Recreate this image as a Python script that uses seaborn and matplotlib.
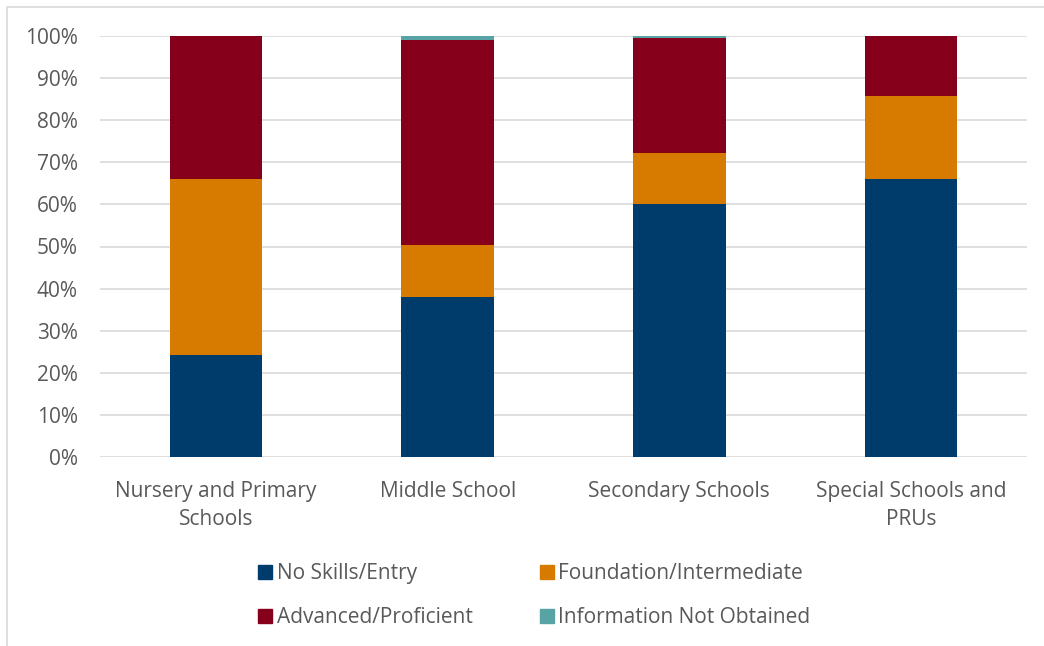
import numpy as np
import pandas as pd
import matplotlib
matplotlib.use("Agg")
import matplotlib.pyplot as plt
import seaborn as sns
from matplotlib.patches import Rectangle
from matplotlib.lines import Line2D

categories = ["Nursery and Primary\nSchools", "Middle School", "Secondary Schools", "Special Schools and\nPRUs"]
series_names = ["No Skills/Entry", "Foundation/Intermediate", "Advanced/Proficient", "Information Not Obtained"]
no_skills = [24.2, 38.0, 60.1, 66.0]
foundation = [41.8, 12.4, 12.1, 19.7]
advanced = [34.0, 48.6, 27.4, 14.3]
not_obtained = [0.0, 1.0, 0.4, 0.0]
colors = ["#003c6b", "#d77b00", "#86001c", "#58a3a3"]
yticks = [0, 10, 20, 30, 40, 50, 60, 70, 80, 90, 100]

sns.set_theme(style="white")
plt.rcParams["font.family"] = ["Open Sans", "DejaVu Sans"]
text_color = "#595959"
fs = 15

values = np.array([no_skills, foundation, advanced, not_obtained])
cum = np.cumsum(values, axis=0)

fig = plt.figure(figsize=(10.44, 6.46), dpi=100)
ax = fig.add_axes([100/1044, 1-457/646, (1027-100)/1044, (457-36)/646])

for i in range(len(series_names) - 1, -1, -1):
    df = pd.DataFrame({"cat": categories, "val": cum[i]})
    sns.barplot(data=df, x="cat", y="val", ax=ax, color=colors[i], width=0.4,
                saturation=1, linewidth=0, zorder=3)

ax.set_ylim(0, 100)
ax.set_yticks(yticks)
ax.set_yticklabels([f"{v}%" for v in yticks])
ax.yaxis.grid(True, color="#d9d9d9", linewidth=1.2, zorder=0)
ax.set_axisbelow(True)
ax.set_xlabel("")
ax.set_ylabel("")
for s in ax.spines.values():
    s.set_visible(False)
ax.tick_params(axis="both", length=0, labelsize=fs, colors=text_color)
ax.tick_params(axis="x", pad=17)
ax.tick_params(axis="y", pad=16)
for lab in ax.get_xticklabels():
    lab.set_linespacing(1.45)

order = [0, 2, 1, 3]
handles = [Line2D([], [], marker="s", linestyle="none", markersize=9.5,
                  markerfacecolor=colors[k], markeredgecolor=colors[k]) for k in order]
labels = [series_names[k] for k in order]
leg = fig.legend(handles, labels, ncol=2, loc="upper left",
                 bbox_to_anchor=(255/1044, 1-563/646), frameon=False,
                 fontsize=fs, labelcolor=text_color, columnspacing=3.05,
                 handletextpad=0.05, handlelength=1.0, labelspacing=1.1,
                 borderpad=0, borderaxespad=0)

fig.patches.append(Rectangle((7/1044, -0.02), 1.5, 1-7/646 + 0.02, transform=fig.transFigure,
                             fill=False, edgecolor="#d9d9d9", linewidth=1.2))

fig.savefig("out.png", dpi=100)
